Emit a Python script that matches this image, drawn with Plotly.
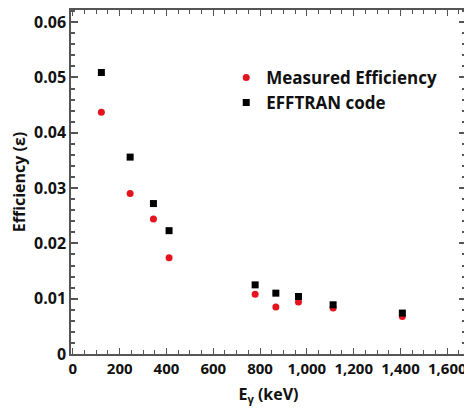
import plotly.graph_objects as go

energy = [121.8, 244.7, 344.3, 411.1, 778.9, 867.4, 964.1, 1112.1, 1408.0]
measured = [0.0437, 0.0290, 0.0244, 0.0174, 0.0108, 0.0085, 0.0094, 0.0083, 0.0068]
efftran = [0.0509, 0.0356, 0.0272, 0.0223, 0.0125, 0.0110, 0.0104, 0.0089, 0.0074]

x_ticks = [0, 200, 400, 600, 800, 1000, 1200, 1400, 1600]
y_ticks = [0, 0.01, 0.02, 0.03, 0.04, 0.05, 0.06]

FONT = "Open Sans"

fig = go.Figure()
fig.add_trace(go.Scatter(
    x=energy, y=measured, mode="markers", name="Measured Efficiency",
    marker=dict(symbol="circle", size=7, color="#e5131d"),
))
fig.add_trace(go.Scatter(
    x=energy, y=efftran, mode="markers", name="EFFTRAN code",
    marker=dict(symbol="square", size=7, color="#000000"),
))

# page has an 8px body margin, so the figure is sized to fit the window
fig.update_layout(
    width=464, height=401,
    margin=dict(l=63, r=6, t=2, b=55),
    plot_bgcolor="white", paper_bgcolor="white",
    font=dict(family=FONT, size=16, color="#111111", weight="bold"),
    legend=dict(x=0.393, y=0.855, xanchor="left", yanchor="top",
                bgcolor="rgba(0,0,0,0)", font=dict(size=17, weight="bold"),
                tracegroupgap=0),
    showlegend=True,
)
fig.update_xaxes(
    range=[-8, 1680], tickvals=x_ticks,
    ticktext=[f"{v:,}" for v in x_ticks],
    ticks="inside", ticklen=6, tickcolor="#555555", tickwidth=1,
    minor=dict(dtick=50, ticks="inside", ticklen=4, tickcolor="#555555"),
    showline=True, linecolor="#555555", linewidth=1.5, mirror="allticks",
    showgrid=False, zeroline=False, automargin=False,
    tickfont=dict(size=15, weight="bold"),
    title=dict(text="E<sub>γ</sub> (keV)", font=dict(size=16, weight="bold"), standoff=12),
)
fig.update_yaxes(
    range=[0, 0.0622], tickvals=y_ticks,
    ticktext=["0", "0.01", "0.02", "0.03", "0.04", "0.05", "0.06"],
    ticks="inside", ticklen=7, tickcolor="#555555", tickwidth=1.5,
    minor=dict(dtick=0.002, ticks="inside", ticklen=4, tickcolor="#555555"),
    showline=True, linecolor="#555555", linewidth=1.5, mirror="allticks",
    showgrid=False, zeroline=False, automargin=False,
    tickfont=dict(size=16, weight="bold"),
    title=dict(text="Efficiency (ε)", font=dict(size=16, weight="bold"), standoff=6),
)

fig.write_html("out.html")
